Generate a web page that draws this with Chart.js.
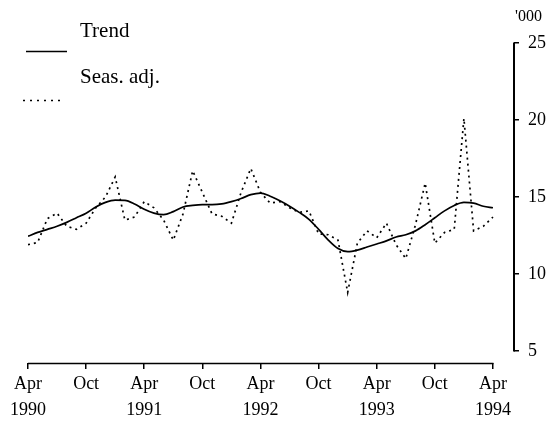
<!DOCTYPE html>
<html>
<head>
<meta charset="utf-8">
<script src="https://cdn.jsdelivr.net/npm/chart.js@4.4.0/dist/chart.umd.min.js"></script>
<style>
html,body{margin:0;padding:0;background:#fff;overflow:hidden}
canvas{display:block}
</style>
</head>
<body>
<canvas id="c" width="558" height="421"></canvas>
<script>
// ---- data ----
const months = [
  'Apr 1990','May 1990','Jun 1990','Jul 1990','Aug 1990','Sep 1990','Oct 1990','Nov 1990','Dec 1990',
  'Jan 1991','Feb 1991','Mar 1991','Apr 1991','May 1991','Jun 1991','Jul 1991','Aug 1991','Sep 1991','Oct 1991','Nov 1991','Dec 1991',
  'Jan 1992','Feb 1992','Mar 1992','Apr 1992','May 1992','Jun 1992','Jul 1992','Aug 1992','Sep 1992','Oct 1992','Nov 1992','Dec 1992',
  'Jan 1993','Feb 1993','Mar 1993','Apr 1993','May 1993','Jun 1993','Jul 1993','Aug 1993','Sep 1993','Oct 1993','Nov 1993','Dec 1993',
  'Jan 1994','Feb 1994','Mar 1994','Apr 1994'
];
const trend = [
  12.45, 12.7, 12.9, 13.1, 13.35, 13.65, 13.95, 14.35, 14.65, 14.8, 14.78, 14.55,
  14.2, 13.95, 13.85, 14.05, 14.35, 14.45, 14.5, 14.5, 14.55, 14.7, 14.9, 15.15,
  15.25, 15.05, 14.75, 14.4, 14.0, 13.55, 12.9, 12.2, 11.65, 11.45, 11.55, 11.75,
  11.95, 12.15, 12.4, 12.55, 12.8, 13.2, 13.65, 14.1, 14.45, 14.65, 14.6, 14.4,
  14.3
];
const seasAdj = [
  11.9, 12.05, 13.6, 13.95, 13.1, 12.9, 13.3, 14.3, 15.0, 16.3, 13.5, 13.7,
  14.7, 14.3, 13.5, 12.2, 13.9, 16.7, 15.3, 13.9, 13.75, 13.3, 15.3, 16.85,
  15.3, 14.6, 14.7, 14.3, 14.0, 14.1, 12.6, 12.55, 12.2, 8.8, 12.0, 12.8,
  12.35, 13.3, 11.9, 11.0, 13.2, 15.9, 12.0, 12.7, 12.9, 20.1, 12.8, 13.1,
  13.7
];
const yTickValues = [5, 10, 15, 20, 25];
const xTickLabels = [
  ['Apr','1990'], ['Oct'], ['Apr','1991'], ['Oct'], ['Apr','1992'],
  ['Oct'], ['Apr','1993'], ['Oct'], ['Apr','1994']
];
const seriesNames = ['Trend', 'Seas. adj.'];
const unitLabel = "'000";

// tick positions: the Apr / Oct months
const xTickIdx = months.map((m, i) => (m.startsWith('Apr') || m.startsWith('Oct')) ? i : -1).filter(i => i >= 0);

const FONT = '"Liberation Serif", "Times New Roman", serif';

const customDraw = {
  id: 'customDraw',
  afterDraw(chart) {
    const { ctx, chartArea, scales: { x, y } } = chart;
    ctx.save();
    ctx.strokeStyle = '#000';
    ctx.fillStyle = '#000';
    // x axis line (Apr 1990 .. Apr 1994)
    ctx.lineWidth = 1.5;
    ctx.beginPath();
    ctx.moveTo(x.getPixelForValue(xTickIdx[0]), chartArea.bottom + 0.5);
    ctx.lineTo(x.getPixelForValue(xTickIdx[xTickIdx.length - 1]) + 0.5, chartArea.bottom + 0.5);
    ctx.stroke();
    // right y axis line (5 .. 25)
    ctx.lineWidth = 2;
    ctx.beginPath();
    ctx.moveTo(chartArea.right, y.getPixelForValue(yTickValues[yTickValues.length - 1]) - 0.5);
    ctx.lineTo(chartArea.right, y.getPixelForValue(yTickValues[0]) + 0.5);
    ctx.stroke();
    // unit label
    ctx.font = '16px ' + FONT;
    ctx.textBaseline = 'alphabetic';
    ctx.textAlign = 'left';
    ctx.fillText(unitLabel, 515, 21);
    // legend
    ctx.font = '21px ' + FONT;
    ctx.fillText(seriesNames[0], 80, 37);
    ctx.fillText(seriesNames[1], 80, 83);
    ctx.lineWidth = 1.6;
    ctx.beginPath();
    ctx.moveTo(26, 51.5);
    ctx.lineTo(67, 51.5);
    ctx.stroke();
    ctx.setLineDash([2, 5]);
    ctx.beginPath();
    ctx.moveTo(23, 100.5);
    ctx.lineTo(65, 100.5);
    ctx.stroke();
    ctx.restore();
  }
};

new Chart(document.getElementById('c'), {
  type: 'line',
  data: {
    datasets: [
      {
        label: seriesNames[0],
        data: trend.map((v, i) => ({ x: i, y: v })),
        borderColor: '#000',
        borderWidth: 1.7,
        pointRadius: 0,
        cubicInterpolationMode: 'monotone',
        fill: false
      },
      {
        label: seriesNames[1],
        data: seasAdj.map((v, i) => ({ x: i, y: v })),
        borderColor: '#000',
        borderWidth: 1.7,
        borderDash: [2, 4],
        pointRadius: 0,
        tension: 0,
        fill: false
      }
    ]
  },
  options: {
    responsive: false,
    animation: false,
    devicePixelRatio: 1,
    layout: { padding: { left: 28, top: 43, right: 0, bottom: 0 } },
    plugins: { legend: { display: false }, tooltip: { enabled: false } },
    scales: {
      x: {
        type: 'linear',
        min: 0,
        max: 50.17,
        afterBuildTicks: s => { s.ticks = xTickIdx.map(v => ({ value: v })); },
        afterFit: s => { s.height = 58; },
        grid: { display: true, drawOnChartArea: false, drawTicks: true, tickLength: 6, color: '#000', lineWidth: 1.5 },
        border: { display: false },
        ticks: {
          autoSkip: false,
          maxRotation: 0,
          minRotation: 0,
          padding: 3,
          color: '#000',
          font: { family: FONT, size: 18, lineHeight: 1.4 },
          callback: (v, i) => xTickLabels[i]
        }
      },
      y: {
        position: 'right',
        min: 4.22,
        max: 25,
        afterBuildTicks: s => { s.ticks = yTickValues.map(v => ({ value: v })); },
        afterFit: s => { s.width = 44; },
        grid: { display: true, drawOnChartArea: false, drawTicks: true, tickLength: 5, color: '#000', lineWidth: 1.5 },
        border: { display: false },
        ticks: {
          padding: 9,
          color: '#000',
          font: { family: FONT, size: 18 },
          callback: v => String(v)
        }
      }
    }
  },
  plugins: [customDraw]
});
</script>
</body>
</html>
